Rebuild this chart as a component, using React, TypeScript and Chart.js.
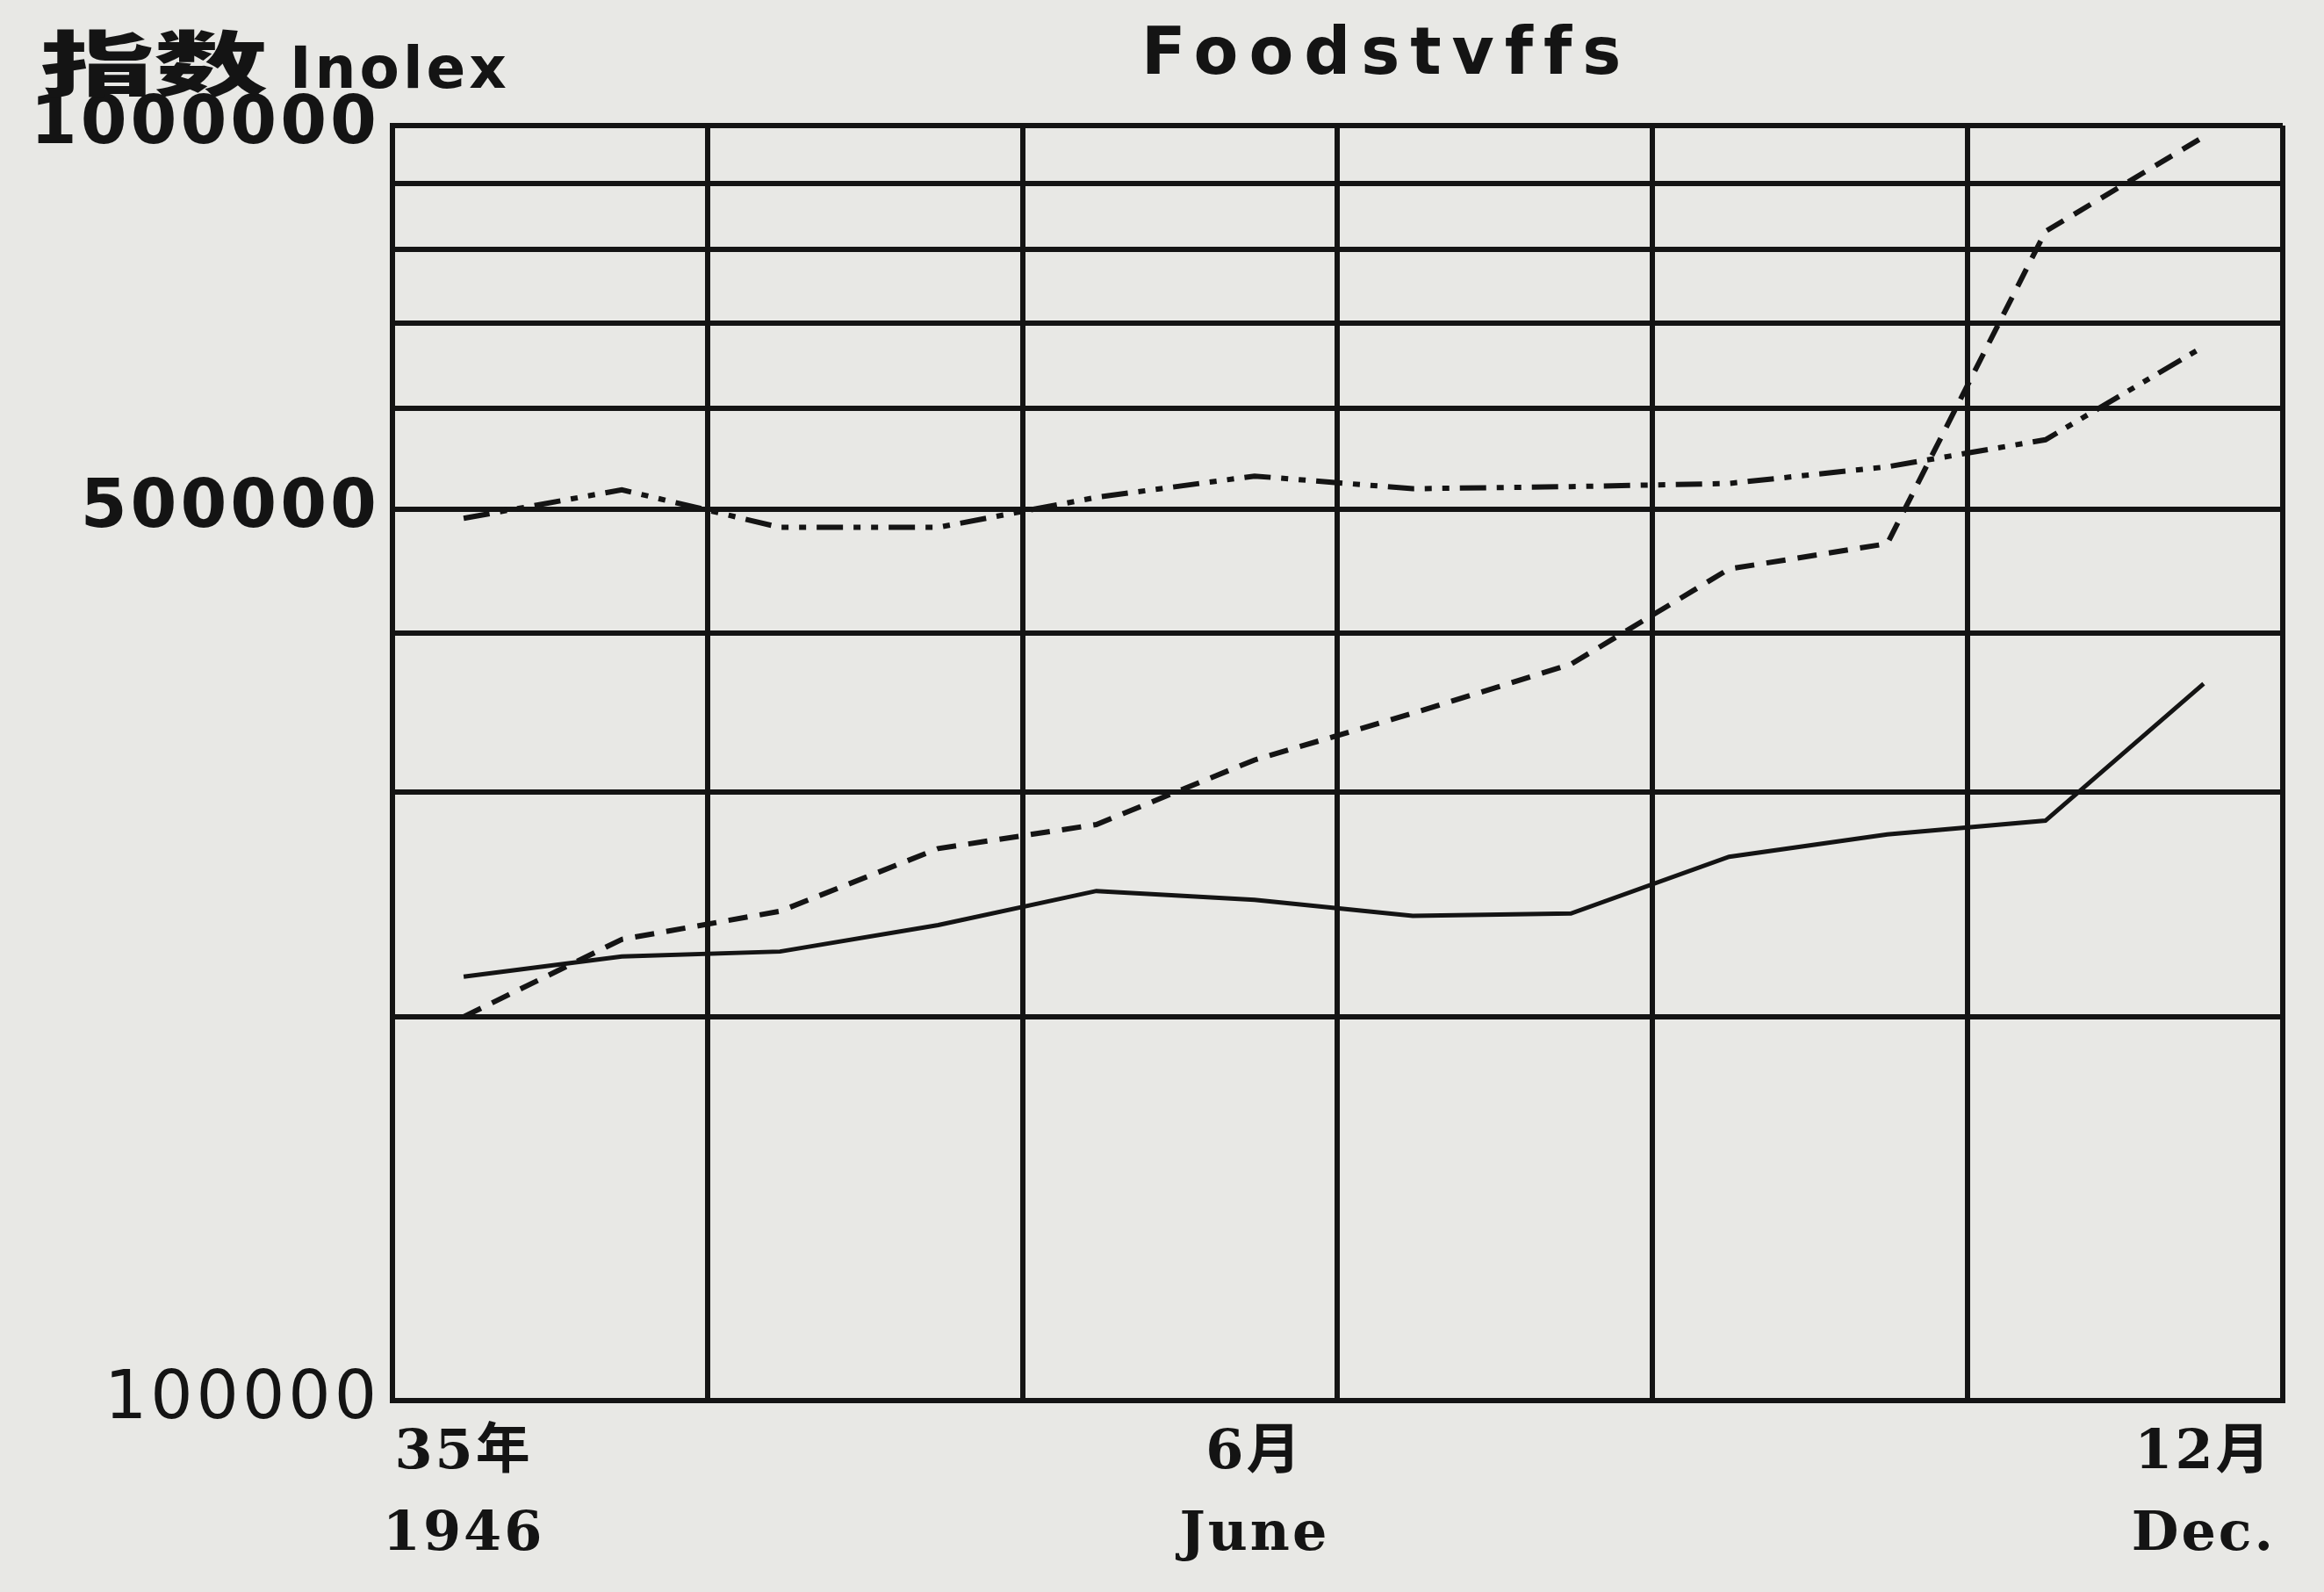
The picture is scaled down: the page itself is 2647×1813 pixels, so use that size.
import React, { useEffect, useRef } from 'react';
import { Chart, registerables } from 'chart.js';

Chart.register(...registerables);

// Months of 1946 (民国35年), index 0 = January ... 11 = December
const months = [0, 1, 2, 3, 4, 5, 6, 7, 8, 9, 10, 11];
// Three food price index series (log scale)
const solidSeries = [215000, 223000, 225000, 236000, 251000, 247000, 240000, 241000, 267000, 278000, 285000, 365000];
const dashedSeries = [200000, 230000, 242000, 271000, 283000, 318000, 346000, 378000, 449000, 470000, 826000, 980000];
const dashDotSeries = [492000, 518000, 484000, 484000, 511000, 531000, 519000, 521000, 524000, 540000, 567000, 671000];

// Axis ticks
const yGridValues = [100000, 200000, 300000, 400000, 500000, 600000, 700000, 800000, 900000, 1000000];
const yLabelValues = [100000, 500000, 1000000];
const xLabelMonths = [0, 5, 11];
const xLabelTexts = [['35年', '1946'], ['6月', 'June'], ['12月', 'Dec.']];

const titleText = 'Foodstvffs';
const yHeaderCn = '指数';
const yHeaderEn = 'Inolex';

const X_MIN = -0.45;
const X_MAX = 11.5;
const X_GRID_STEPS = 6;

const ink = '#141414';
const paper = '#e8e8e5';

export default function App() {
  const ref = useRef<HTMLCanvasElement | null>(null);

  useEffect(() => {
    if (!ref.current) return;
    const gridX: number[] = [];
    for (let i = 0; i <= X_GRID_STEPS; i++) gridX.push(X_MIN + ((X_MAX - X_MIN) * i) / X_GRID_STEPS);
    const isLabelTick = (v: number) => xLabelMonths.some((m) => Math.abs(m - v) < 1e-6);

    const bgPlugin = {
      id: 'paperBg',
      beforeDraw(chart: any) {
        const c = chart.ctx;
        c.save();
        c.fillStyle = paper;
        c.fillRect(0, 0, chart.width, chart.height);
        c.restore();
      },
    };

    const spacingPlugin = {
      id: 'tickSpacing',
      afterLayout(chart: any) {
        const patch = (s: any, sp: string) => {
          if (!s || s.__patched) return;
          const orig = s.drawLabels.bind(s);
          s.drawLabels = (area: any) => {
            const c = chart.ctx as any;
            c.save();
            c.letterSpacing = sp;
            orig(area);
            c.restore();
          };
          s.__patched = true;
        };
        patch(chart.scales.y, '4px');
        patch(chart.scales.x, '3px');
      },
    };

    const textPlugin = {
      id: 'headerTexts',
      afterDraw(chart: any) {
        const c = chart.ctx as any;
        c.save();
        c.fillStyle = ink;
        c.textBaseline = 'alphabetic';
        c.textAlign = 'left';
        // title
        c.font = 'bold 74px "DejaVu Sans", sans-serif';
        c.letterSpacing = '12px';
        c.fillText(titleText, 1300, 84);
        // y header
        c.letterSpacing = '0px';
        c.save();
        c.translate(46, 102);
        c.scale(1.62, 1);
        c.font = '900 80px "Noto Sans CJK SC", sans-serif';
        c.fillText(yHeaderCn, 0, 0);
        c.restore();
        c.font = 'bold 66px "DejaVu Sans", sans-serif';
        c.letterSpacing = '4px';
        c.fillText(yHeaderEn, 330, 100);
        c.restore();
      },
    };

    const chart = new Chart(ref.current, {
      type: 'line',
      data: {
        datasets: [
          {
            label: 'solid',
            data: months.map((m, i) => ({ x: m, y: solidSeries[i] })),
            borderColor: ink,
            borderWidth: 5,
            pointRadius: 0,
            fill: false,
            tension: 0,
          },
          {
            label: 'dashed',
            data: months.map((m, i) => ({ x: m, y: dashedSeries[i] })),
            borderColor: ink,
            borderWidth: 6,
            borderDash: [22, 14],
            pointRadius: 0,
            fill: false,
            tension: 0,
          },
          {
            label: 'dashdot',
            data: months.map((m, i) => ({ x: m, y: dashDotSeries[i] })),
            borderColor: ink,
            borderWidth: 6,
            borderDash: [30, 12, 8, 12, 8, 12],
            pointRadius: 0,
            fill: false,
            tension: 0,
          },
        ],
      },
      options: {
        animation: false,
        responsive: false,
        devicePixelRatio: 1,
        layout: { padding: { top: 143, right: 47, left: 0, bottom: 0 } },
        plugins: {
          legend: { display: false },
          tooltip: { enabled: false },
          title: { display: false },
        },
        scales: {
          x: {
            type: 'linear',
            min: X_MIN,
            max: X_MAX,
            afterBuildTicks: (scale: any) => {
              const vals = gridX.concat(xLabelMonths).sort((a, b) => a - b);
              scale.ticks = vals.map((v) => ({ value: v }));
            },
            afterFit: (scale: any) => {
              scale.height = 218;
            },
            ticks: {
              autoSkip: false,
              maxRotation: 0,
              minRotation: 0,
              padding: 14,
              color: ink,
              font: { family: '"DejaVu Serif", "Noto Sans CJK SC", serif', size: 62, weight: 'bold', lineHeight: 1.5 },
              callback: (v: any) => {
                const idx = xLabelMonths.findIndex((m) => Math.abs(m - Number(v)) < 1e-6);
                return idx >= 0 ? xLabelTexts[idx] : '';
              },
            },
            grid: {
              color: (ctx: any) => (ctx.tick && isLabelTick(ctx.tick.value) ? 'rgba(0,0,0,0)' : ink),
              lineWidth: 6,
              drawTicks: false,
            },
            border: { color: ink, width: 6 },
          },
          y: {
            type: 'logarithmic',
            min: 100000,
            max: 1000000,
            afterBuildTicks: (scale: any) => {
              scale.ticks = yGridValues.map((v) => ({ value: v }));
            },
            afterFit: (scale: any) => {
              scale.width = 447;
            },
            ticks: {
              autoSkip: false,
              padding: 14,
              color: ink,
              font: (ctx: any) => ({
                family: '"DejaVu Sans", sans-serif',
                size: 76,
                weight: ctx.tick && ctx.tick.value === 100000 ? 'normal' : 'bold',
              }),
              callback: (v: any) => (yLabelValues.includes(Number(v)) ? String(v) : ''),
            },
            grid: { color: ink, lineWidth: 6, drawTicks: false },
            border: { color: ink, width: 6 },
          },
        },
      } as any,
      plugins: [bgPlugin, spacingPlugin, textPlugin],
    });
    return () => chart.destroy();
  }, []);

  return (
    <div style={{ position: 'fixed', left: 0, top: 0, width: 2647, height: 1813, background: paper }}>
      <canvas ref={ref} width={2647} height={1813} style={{ display: 'block' }} />
    </div>
  );
}
